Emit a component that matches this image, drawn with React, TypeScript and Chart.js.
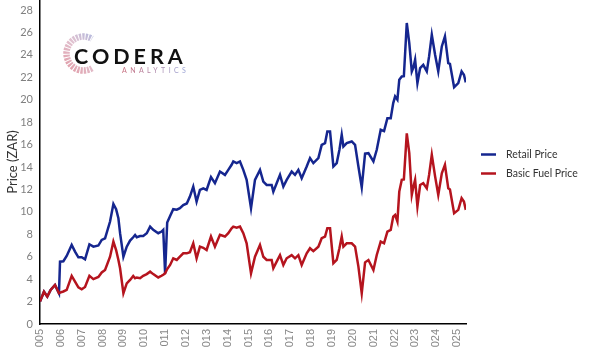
import { useEffect, useRef } from "react";
import { Chart, registerables } from "chart.js";

Chart.register(...registerables);

const dates = [
  2005.0, 2005.19, 2005.35, 2005.51, 2005.72, 2005.91, 2005.96, 2006.12, 2006.28, 2006.52,
  2006.68, 2006.84, 2007.0, 2007.16, 2007.37, 2007.56, 2007.8, 2007.96, 2008.12, 2008.36,
  2008.52, 2008.65, 2008.76, 2008.84, 2009.0, 2009.16, 2009.32, 2009.47, 2009.56, 2009.64,
  2009.8, 2009.95, 2010.12, 2010.28, 2010.43, 2010.67, 2010.83, 2010.91, 2011.0, 2011.1,
  2011.24, 2011.39, 2011.56, 2011.71, 2011.87, 2012.04, 2012.19, 2012.35, 2012.51, 2012.67,
  2012.83, 2012.99, 2013.2, 2013.39, 2013.63, 2013.87, 2014.03, 2014.19, 2014.27, 2014.43,
  2014.59, 2014.75, 2014.91, 2015.12, 2015.31, 2015.55, 2015.71, 2015.87, 2016.11, 2016.19,
  2016.35, 2016.51, 2016.67, 2016.83, 2017.07, 2017.23, 2017.39, 2017.55, 2017.79, 2017.95,
  2018.11, 2018.35, 2018.51, 2018.67, 2018.78, 2018.91, 2019.07, 2019.23, 2019.36, 2019.47,
  2019.55, 2019.71, 2019.95, 2020.11, 2020.27, 2020.43, 2020.59, 2020.75, 2020.99, 2021.15,
  2021.34, 2021.5, 2021.66, 2021.82, 2021.94, 2022.03, 2022.14, 2022.23, 2022.35, 2022.45,
  2022.59, 2022.71, 2022.83, 2022.91, 2022.99, 2023.1, 2023.23, 2023.38, 2023.55, 2023.66,
  2023.79, 2023.95, 2024.1, 2024.27, 2024.42, 2024.58, 2024.66, 2024.86, 2025.06, 2025.22,
  2025.33, 2025.42,
];

const retailPrice = [
  2.0, 2.88, 2.44, 3.04, 3.48, 2.74, 5.56, 5.6, 6.07, 7.05,
  6.46, 5.95, 5.95, 5.77, 7.11, 6.9, 7.0, 7.5, 7.64, 9.14,
  10.7, 10.24, 9.43, 8.1, 6.0, 6.9, 7.44, 7.74, 7.94, 7.74,
  7.85, 7.85, 8.1, 8.69, 8.4, 8.1, 8.25, 8.4, 4.52, 9.05,
  9.64, 10.24, 10.2, 10.33, 10.6, 10.75, 11.37, 12.26, 10.92, 11.96,
  12.1, 11.96, 13.1, 12.56, 13.6, 13.3, 13.75, 14.2, 14.5, 14.35,
  14.5, 13.75, 12.86, 10.33, 12.86, 13.75, 12.7, 12.4, 12.4, 11.8,
  12.56, 13.3, 12.26, 12.86, 13.6, 13.3, 13.75, 13.0, 14.05, 14.8,
  14.35, 14.8, 15.98, 16.13, 17.17, 17.17, 14.05, 14.35, 15.54, 16.88,
  15.83, 16.13, 16.28, 15.98, 14.05, 12.2, 15.2, 15.24, 14.5, 15.54,
  17.32, 17.2, 18.36, 18.36, 19.7, 20.3, 20.0, 21.79, 22.08, 22.1,
  26.85, 25.06, 22.53, 22.9, 23.57, 21.49, 22.83, 23.12, 22.53, 23.87,
  25.8, 24.0, 22.53, 24.76, 25.66, 23.27, 23.2, 21.13, 21.49, 22.53,
  22.24, 21.55,
];

const basicFuelPrice = [
  2.0, 2.88, 2.44, 3.04, 3.48, 2.74, 2.8, 2.9, 3.04, 4.29,
  3.78, 3.27, 3.1, 3.3, 4.29, 4.0, 4.2, 4.6, 4.82, 6.0,
  7.35, 6.6, 5.71, 4.97, 2.74, 3.63, 3.93, 4.29, 4.08, 4.15,
  4.08, 4.3, 4.45, 4.67, 4.45, 4.15, 4.3, 4.4, 4.52, 4.9,
  5.27, 5.86, 5.71, 6.0, 6.3, 6.3, 6.4, 7.2, 5.86, 6.9,
  6.8, 6.6, 7.8, 6.9, 7.95, 7.8, 8.1, 8.54, 8.69, 8.6,
  8.69, 8.1, 7.2, 4.52, 6.0, 7.05, 6.0, 5.71, 5.71, 4.97,
  5.56, 6.14, 5.27, 5.86, 6.14, 5.86, 6.14, 5.27, 6.3, 6.76,
  6.5, 6.9, 7.65, 7.8, 8.54, 8.54, 5.42, 5.71, 6.76, 7.8,
  6.9, 7.2, 7.2, 6.9, 5.12, 2.74, 5.5, 5.71, 4.82, 6.16,
  7.35, 7.2, 8.24, 8.39, 9.58, 9.73, 9.14, 11.81, 12.86, 12.9,
  17.0, 15.24, 11.52, 12.26, 12.86, 10.48, 12.4, 12.56, 12.1, 13.3,
  15.09, 13.15, 11.52, 13.45, 14.2, 12.1, 12.0, 9.88, 10.18, 11.22,
  10.93, 10.18,
];

const yearTicks = [
  2005, 2006, 2007, 2008, 2009, 2010, 2011, 2012, 2013, 2014, 2015,
  2016, 2017, 2018, 2019, 2020, 2021, 2022, 2023, 2024, 2025,
];
const xTickLabels = [
  "005", "006", "007", "008", "009", "010", "011", "012", "013", "014", "015",
  "016", "017", "018", "019", "020", "021", "022", "023", "024", "025",
];
const yTicks = [0, 2, 4, 6, 8, 10, 12, 14, 16, 18, 20, 22, 24, 26, 28];
const seriesNames = ["Retail Price", "Basic Fuel Price"];
const seriesColors = ["#15268f", "#b5141e"];

const logoPlugin = {
  id: "coderaLogo",
  afterDraw(chart: any) {
    const ctx = chart.ctx as CanvasRenderingContext2D;
    ctx.save();
    const cx = 83.5;
    const cy = 53.5;
    const r = 17;
    const grad = ctx.createLinearGradient(cx - r, cy + r, cx + r, cy - r);
    grad.addColorStop(0, "rgba(200,70,90,0.55)");
    grad.addColorStop(0.5, "rgba(190,120,150,0.45)");
    grad.addColorStop(1, "rgba(100,125,200,0.55)");
    ctx.strokeStyle = grad;
    ctx.lineWidth = 6.5;
    ctx.setLineDash([2.2, 1.0]);
    ctx.beginPath();
    ctx.arc(cx, cy, r, (60 * Math.PI) / 180, (300 * Math.PI) / 180);
    ctx.stroke();
    ctx.setLineDash([]);
    ctx.textBaseline = "alphabetic";
    ctx.textAlign = "left";
    ctx.fillStyle = "#111111";
    ctx.font = "700 21.5px Lato";
    (ctx as any).letterSpacing = "4px";
    ctx.fillText("CODERA", 74, 63.5);
    const g2 = ctx.createLinearGradient(122, 0, 187, 0);
    g2.addColorStop(0, "#c9707f");
    g2.addColorStop(1, "#9aa6d8");
    ctx.fillStyle = g2;
    ctx.font = "400 7px Lato";
    (ctx as any).letterSpacing = "3.4px";
    ctx.fillText("ANALYTICS", 122, 73);
    ctx.restore();
  },
};

const legendPlugin = {
  id: "sideLegend",
  afterDraw(chart: any) {
    const ctx = chart.ctx as CanvasRenderingContext2D;
    ctx.save();
    const x0 = chart.chartArea.right + 15;
    const yStart = 154.5;
    const step = 19;
    chart.data.datasets.forEach((d: any, i: number) => {
      const y = yStart + i * step;
      ctx.strokeStyle = d.borderColor;
      ctx.lineWidth = 2.5;
      ctx.beginPath();
      ctx.moveTo(x0, y);
      ctx.lineTo(x0 + 15, y);
      ctx.stroke();
      ctx.fillStyle = "#333333";
      ctx.font = "400 10.5px Lato";
      ctx.textBaseline = "middle";
      ctx.textAlign = "left";
      ctx.fillText(seriesNames[i], x0 + 25, y);
    });
    ctx.restore();
  },
};

export default function App() {
  const ref = useRef<HTMLCanvasElement | null>(null);

  useEffect(() => {
    document.body.style.margin = "0";
    if (!ref.current) return;
    const chart = new Chart(ref.current, {
      type: "line",
      data: {
        datasets: [
          {
            label: seriesNames[0],
            data: dates.map((x, i) => ({ x, y: retailPrice[i] })),
            borderColor: seriesColors[0],
            backgroundColor: seriesColors[0],
            borderWidth: 2.5,
            pointRadius: 0,
            tension: 0,
            order: 1,
          },
          {
            label: seriesNames[1],
            data: dates.map((x, i) => ({ x, y: basicFuelPrice[i] })),
            borderColor: seriesColors[1],
            backgroundColor: seriesColors[1],
            borderWidth: 2.5,
            pointRadius: 0,
            tension: 0,
            order: 0,
          },
        ],
      },
      options: {
        responsive: false,
        animation: false,
        layout: { padding: { left: 0, right: 134, top: 0, bottom: 0 } },
        plugins: {
          legend: { display: false },
          tooltip: { enabled: false },
        },
        scales: {
          x: {
            type: "linear",
            min: 2005,
            max: 2025.43,
            afterBuildTicks: (s: any) => {
              s.ticks = yearTicks.map((v) => ({ value: v }));
            },
            afterFit: (s: any) => {
              s.height = 36;
              s.paddingLeft = 0;
              s.paddingRight = 0;
            },
            grid: { display: false, drawTicks: false },
            border: { display: true, color: "#000000", width: 1.5 },
            ticks: {
              autoSkip: false,
              minRotation: 90,
              maxRotation: 90,
              padding: 5,
              color: "#888888",
              font: { family: "Liberation Sans", size: 11 },
              callback: (_v: any, i: number) => xTickLabels[i] ?? "",
            },
          },
          y: {
            min: 0,
            max: 28.9,
            afterBuildTicks: (s: any) => {
              s.ticks = yTicks.map((v) => ({ value: v }));
            },
            afterFit: (s: any) => {
              s.width = 40;
              s.paddingTop = 0;
              s.paddingBottom = 0;
            },
            grid: { display: false, drawTicks: false },
            border: { display: true, color: "#000000", width: 1.5 },
            title: {
              display: true,
              text: "Price (ZAR)",
              color: "#333333",
              font: { family: "Lato", size: 13 },
              padding: { top: 5, bottom: 0 },
            },
            ticks: {
              padding: 7,
              color: "#808080",
              font: { family: "Lato", size: 11 },
            },
          },
        },
      },
      plugins: [logoPlugin, legendPlugin],
    });
    return () => chart.destroy();
  }, []);

  return <canvas ref={ref} width={600} height={360} style={{ display: "block" }} />;
}
